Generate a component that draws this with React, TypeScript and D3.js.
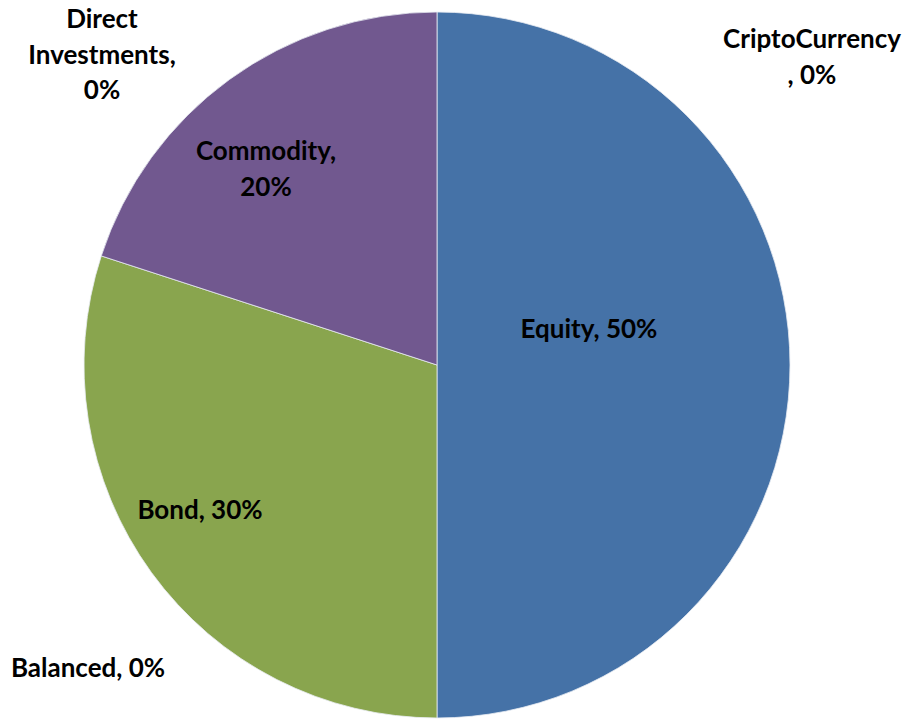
import React from "react";
import * as d3 from "d3";

const categories = ["CriptoCurrency", "Equity", "Balanced", "Bond", "Commodity", "Direct Investments"];
const values = [0, 50, 0, 30, 20, 0];
const colors = ["#AA4643", "#4572A7", "#DB843D", "#89A54E", "#71588F", "#4198AF"];

// label layout (line breaks and offsets relative to pie centre, in px)
const labelLines: Record<string, string[]> = {
  CriptoCurrency: ["CriptoCurrency", ", 0%"],
  Equity: ["Equity, 50%"],
  Balanced: ["Balanced, 0%"],
  Bond: ["Bond, 30%"],
  Commodity: ["Commodity,", "20%"],
  "Direct Investments": ["Direct", "Investments,", "0%"],
};
const labelOffset: Record<string, [number, number]> = {
  CriptoCurrency: [375, -317],
  Equity: [152, -27],
  Balanced: [-349, 312],
  Bond: [-237, 154],
  Commodity: [-171, -205],
  "Direct Investments": [-335, -337],
};

const W = 910;
const H = 720;
const cx = 437;
const cy = 365;
const R = 353;
const lineH = 35.5;

export default function App() {
  const data = categories.map((c, i) => ({ c, v: values[i], color: colors[i] }));
  const pie = d3.pie<{ c: string; v: number; color: string }>().value((d) => d.v).sort(null);
  const arcs = pie(data);
  const arcGen = d3.arc<d3.PieArcDatum<{ c: string; v: number; color: string }>>().innerRadius(0).outerRadius(R);

  return (
    <svg width={W} height={H} style={{ position: "absolute", left: 0, top: 0 }}>
      <rect width={W} height={H} fill="#fff" />
      <g transform={`translate(${cx},${cy})`}>
        {arcs
          .filter((a) => a.data.v > 0)
          .map((a) => (
            <path key={a.data.c} d={arcGen(a) || ""} fill={a.data.color} stroke="#e8ecf2" strokeWidth={0.8} />
          ))}
        {arcs.map((a) => {
          const [dx, dy] = labelOffset[a.data.c];
          const lines = labelLines[a.data.c];
          return (
            <text
              key={"l" + a.data.c}
              x={dx}
              y={dy}
              textAnchor="middle"
              fontFamily="Lato, 'Open Sans', sans-serif"
              fontWeight="bold"
              fontSize={26}
              fill="#000"
            >
              {lines.map((ln, i) => (
                <tspan key={i} x={dx} dy={i === 0 ? 0 : lineH}>
                  {ln}
                </tspan>
              ))}
            </text>
          );
        })}
      </g>
    </svg>
  );
}
